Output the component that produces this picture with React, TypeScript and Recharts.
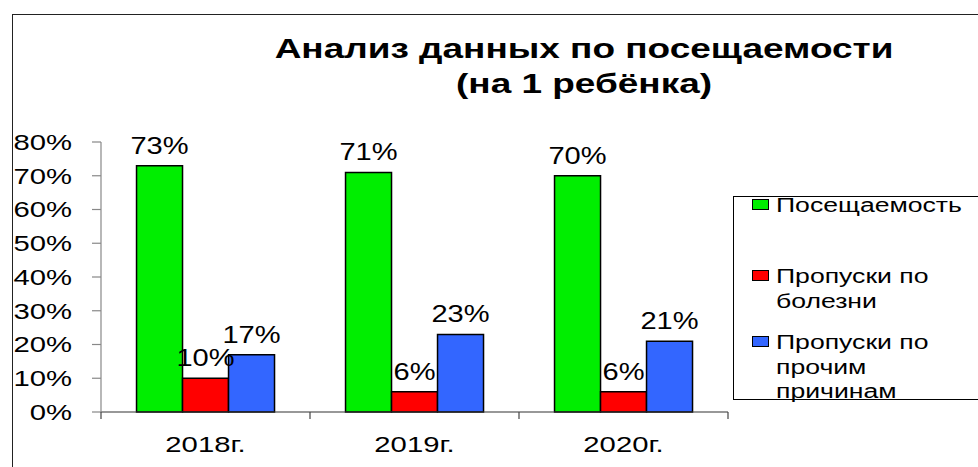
import React from "react";
import { BarChart, Bar, XAxis, YAxis, LabelList, Legend } from "recharts";

const years = ["2018г.", "2019г.", "2020г."];
const attendance = [73, 71, 70];
const sickAbsence = [10, 6, 6];
const otherAbsence = [17, 23, 21];
const yTicks = [0, 10, 20, 30, 40, 50, 60, 70, 80];
const seriesNames = ["Посещаемость", "Пропуски по болезни", "Пропуски по прочим причинам"];
const legendLines = [["Посещаемость"], ["Пропуски по", "болезни"], ["Пропуски по", "прочим", "причинам"]];

const data = years.map((y, i) => ({
  year: y,
  a: attendance[i],
  s: sickAbsence[i],
  o: otherAbsence[i],
}));

const FONT = "'Liberation Sans', Arial, sans-serif";
const SX = 1.33;

const YTick = (props: any) => {
  const { x, y, payload } = props;
  return (
    <text
      transform={`translate(${x},${y}) scale(${SX},1)`}
      textAnchor="end"
      dy="0.36em"
      fontSize={22}
      fontFamily={FONT}
      fill="#000"
    >
      {payload.value}%
    </text>
  );
};

const XTick = (props: any) => {
  const { x, y, payload, index, visibleTicksCount } = props;
  const off = payload.offset ?? 0;
  const isLast = index === (visibleTicksCount ?? 3) - 1;
  return (
    <g>
      <line x1={x - off} x2={x - off} y1={y} y2={y + 7} stroke="#444" strokeWidth={1.2} />
      {isLast && <line x1={x + off} x2={x + off} y1={y} y2={y + 7} stroke="#444" strokeWidth={1.2} />}
      <text
        transform={`translate(${x},${y + 40}) scale(${SX},1)`}
        textAnchor="middle"
        fontSize={22}
        fontFamily={FONT}
        fill="#000"
      >
        {payload.value}
      </text>
    </g>
  );
};

const BarLabel = (props: any) => {
  const { x, y, width, value } = props;
  const cx = Number(x) + Number(width) / 2;
  return (
    <text
      transform={`translate(${cx},${Number(y) - 12}) scale(${SX * 0.95},1)`}
      textAnchor="middle"
      fontSize={23}
      fontFamily={FONT}
      fill="#000"
    >
      {value}%
    </text>
  );
};

const itemTops = [-4, 67, 133];

const LegendContent = (props: any) => {
  const payload = props.payload || [];
  return (
    <div
      style={{
        position: "absolute",
        left: 0,
        top: 0,
        width: 260,
        height: 204,
        border: "1px solid #000",
        background: "#fff",
        boxSizing: "border-box",
      }}
    >
      {payload.map((p: any, i: number) => (
        <div
          key={i}
          style={{ position: "absolute", left: 18, top: itemTops[i], fontFamily: FONT, fontSize: 20, lineHeight: "24.5px", color: "#000" }}
        >
          <div
            style={{ position: "absolute", left: 0, top: 6, width: 15, height: 9, background: p.color, border: "1px solid #000" }}
          />
          <div style={{ marginLeft: 24, transform: `scale(${SX},1)`, transformOrigin: "left top", whiteSpace: "nowrap" }}>
            {(legendLines[i] || [p.value]).map((l, j) => (
              <div key={j}>{l}</div>
            ))}
          </div>
        </div>
      ))}
    </div>
  );
};

export default function App() {
  return (
    <div style={{ position: "fixed", left: 0, top: 0, width: 978, height: 467, overflow: "hidden", background: "#fff" }}>
      <div style={{ position: "absolute", left: 12, top: 14, width: 1100, height: 600, border: "1px solid #222" }} />
      <div
        style={{
          position: "absolute",
          left: 184,
          top: 31,
          width: 800,
          textAlign: "center",
          fontFamily: FONT,
          fontWeight: "bold",
          fontSize: 28,
          lineHeight: "35px",
          color: "#000",
          transform: "scale(1.32,1)",
          transformOrigin: "center top",
        }}
      >
        <div>Анализ данных по посещаемости</div>
        <div>(на 1 ребёнка)</div>
      </div>
      <BarChart
        width={978}
        height={467}
        data={data}
        margin={{ top: 142, right: 250, bottom: 0, left: 0 }}
        barCategoryGap="17%"
        barGap={0}
        style={{ position: "absolute", left: 0, top: 0 }}
      >
        <XAxis
          dataKey="year"
          height={55}
          tickSize={0}
          tickMargin={0}
          tickLine={false}
          axisLine={{ stroke: "#333", strokeWidth: 1.2 }}
          tick={<XTick />}
          interval={0}
        />
        <YAxis
          width={101}
          domain={[0, 80]}
          ticks={yTicks}
          tickSize={9}
          tickMargin={20}
          axisLine={{ stroke: "#888", strokeWidth: 1.2 }}
          tickLine={{ stroke: "#888", strokeWidth: 1.2 }}
          tick={<YTick />}
          interval={0}
        />
        <Legend
          content={<LegendContent />}
          wrapperStyle={{ position: "absolute", left: 733, top: 196, width: 0, height: 0, overflow: "visible" }}
        />
        <Bar dataKey="a" name={seriesNames[0]} fill="#00EE00" stroke="#000" strokeWidth={1.5} isAnimationActive={false}>
          <LabelList dataKey="a" content={<BarLabel />} />
        </Bar>
        <Bar dataKey="s" name={seriesNames[1]} fill="#FF0000" stroke="#000" strokeWidth={1.5} isAnimationActive={false}>
          <LabelList dataKey="s" content={<BarLabel />} />
        </Bar>
        <Bar dataKey="o" name={seriesNames[2]} fill="#3366FF" stroke="#000" strokeWidth={1.5} isAnimationActive={false}>
          <LabelList dataKey="o" content={<BarLabel />} />
        </Bar>
      </BarChart>
    </div>
  );
}
